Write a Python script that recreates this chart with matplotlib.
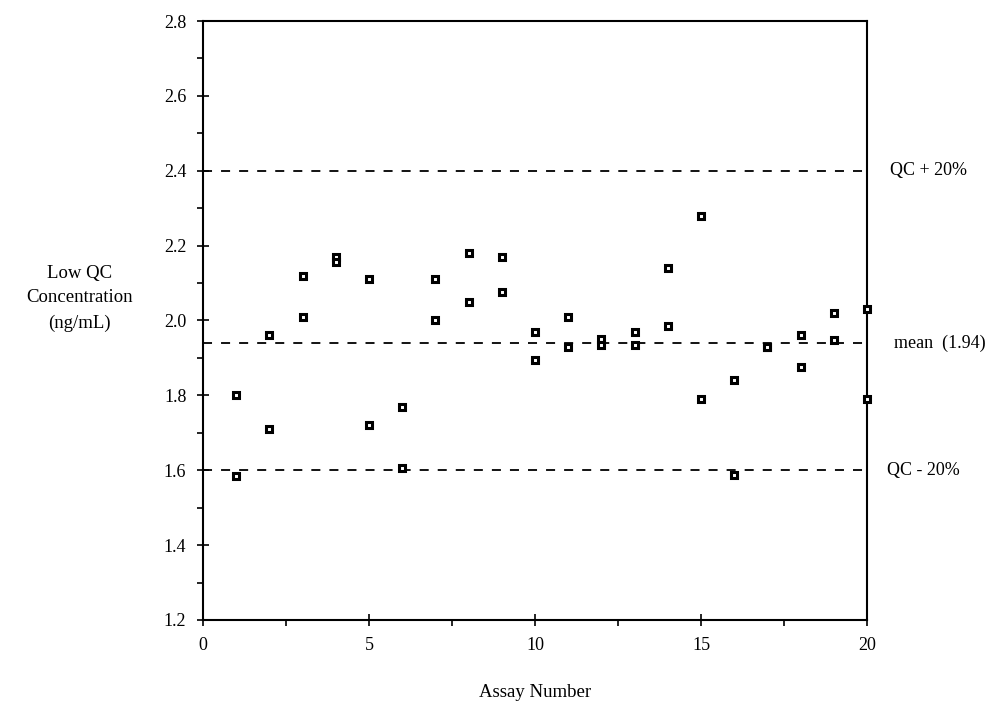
import matplotlib
matplotlib.use('Agg')
import matplotlib.pyplot as plt
from matplotlib.ticker import MultipleLocator

plt.rcParams['font.family'] = ['Liberation Serif', 'DejaVu Serif']

# Two QC replicates per assay run
assay = list(range(1, 21))
rep1 = [1.80, 1.96, 2.12, 2.17, 2.11, 1.77, 2.11, 2.18, 2.17, 1.97,
        2.01, 1.95, 1.97, 2.14, 2.28, 1.84, 1.93, 1.96, 2.02, 2.03]
rep2 = [1.585, 1.71, 2.01, 2.155, 1.72, 1.605, 2.00, 2.05, 2.075, 1.895,
        1.93, 1.935, 1.935, 1.985, 1.79, 1.587, 1.93, 1.875, 1.948, 1.79]

mean_val = 1.94
upper = 2.4
lower = 1.6

fig = plt.figure(figsize=(9.99, 7.1), dpi=100)
ax = fig.add_axes([0.2032, 0.1268, 0.6647, 0.8436])

for ys in (rep1, rep2):
    ax.plot(assay, ys, linestyle='none', marker='s', markersize=5,
            markerfacecolor='white', markeredgecolor='black',
            markeredgewidth=2.2, clip_on=False, zorder=3)

for yv in (upper, mean_val, lower):
    ax.plot([0, 20], [yv, yv], color='black', linestyle=(0, (5, 5)), linewidth=1.3)

ax.set_xlim(0, 20)
ax.set_ylim(1.2, 2.8)
ax.xaxis.set_major_locator(MultipleLocator(5))
ax.xaxis.set_minor_locator(MultipleLocator(2.5))
ax.yaxis.set_major_locator(MultipleLocator(0.2))
ax.yaxis.set_minor_locator(MultipleLocator(0.1))
ax.yaxis.set_major_formatter(matplotlib.ticker.FormatStrFormatter('%.1f'))
ax.tick_params(which='major', direction='inout', length=8, width=1.2, labelsize=13, pad=8)
ax.tick_params(which='minor', direction='out', length=4, width=1.2)

for sp in ax.spines.values():
    sp.set_linewidth(1.5)

ax.set_xlabel('Assay Number', fontsize=13.5, labelpad=22)
fig.text(0.08, 0.58, 'Low QC\nConcentration\n(ng/mL)', ha='center', va='center',
         fontsize=13.5, linespacing=1.6)

ax.text(20.7, upper, 'QC + 20%', ha='left', va='center', fontsize=13)
ax.text(20.8, mean_val, 'mean  (1.94)', ha='left', va='center', fontsize=13)
ax.text(20.6, lower, 'QC - 20%', ha='left', va='center', fontsize=13)

fig.savefig('out.png', dpi=100)
